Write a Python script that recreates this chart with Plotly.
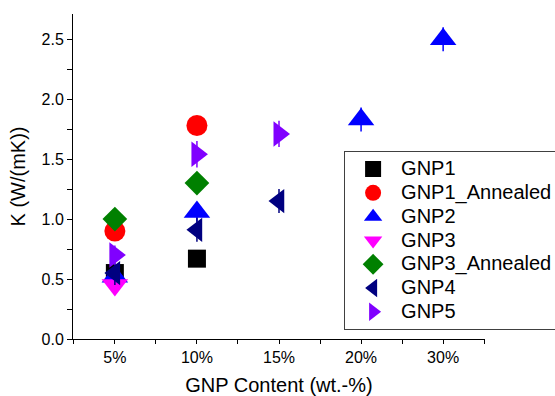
import plotly.graph_objects as go

categories = ["5%", "10%", "15%", "20%", "30%"]

series_names = ["GNP1", "GNP1_Annealed", "GNP2", "GNP3", "GNP3_Annealed", "GNP4", "GNP5"]
series_x = {
    "GNP1": ["5%", "10%"],
    "GNP1_Annealed": ["5%", "10%"],
    "GNP2": ["5%", "10%", "20%", "30%"],
    "GNP3": ["5%"],
    "GNP3_Annealed": ["5%", "10%"],
    "GNP4": ["5%", "10%", "15%"],
    "GNP5": ["5%", "10%", "15%"],
}
series_y = {
    "GNP1": [0.55, 0.67],
    "GNP1_Annealed": [0.90, 1.78],
    "GNP2": [0.52, 1.06, 1.83, 2.50],
    "GNP3": [0.45],
    "GNP3_Annealed": [1.00, 1.30],
    "GNP4": [0.55, 0.91, 1.15],
    "GNP5": [0.70, 1.54, 1.71],
}
series_err = {
    "GNP1": [0.03, 0.03],
    "GNP1_Annealed": [0.04, 0.04],
    "GNP2": [0.05, 0.08, 0.10, 0.10],
    "GNP3": [0.04],
    "GNP3_Annealed": [0.05, 0.05],
    "GNP4": [0.1, 0.1, 0.1],
    "GNP5": [0.08, 0.11, 0.11],
}
colors = {
    "GNP1": "#000000",
    "GNP1_Annealed": "#FF0000",
    "GNP2": "#0000FF",
    "GNP3": "#FF00FF",
    "GNP3_Annealed": "#008000",
    "GNP4": "#000080",
    "GNP5": "#8000FF",
}
symbols = {
    "GNP1": "square",
    "GNP1_Annealed": "circle",
    "GNP2": "triangle-up",
    "GNP3": "triangle-down",
    "GNP3_Annealed": "diamond",
    "GNP4": "triangle-left",
    "GNP5": "triangle-right",
}
sizes = {
    "GNP1": 18,
    "GNP1_Annealed": 21,
    "GNP2": 23,
    "GNP3": 23,
    "GNP3_Annealed": 19,
    "GNP4": 21,
    "GNP5": 22,
}

y_ticks = [0.0, 0.5, 1.0, 1.5, 2.0, 2.5]
FONT = "Arial, Liberation Sans, sans-serif"

fig = go.Figure()
for name in series_names:
    xi = [categories.index(c) for c in series_x[name]]
    fig.add_trace(go.Scatter(
        x=xi, y=series_y[name], mode="markers",
        name='<span style="font-size:20px">' + name + "&nbsp;&nbsp;</span>",
        marker=dict(symbol=symbols[name], size=sizes[name], color=colors[name], line=dict(width=0)),
        error_y=dict(type="data", array=series_err[name], color=colors[name], thickness=1.5, width=0),
    ))

fig.update_layout(
    width=555, height=396,
    margin=dict(l=73, r=70, t=14, b=57, autoexpand=False),
    paper_bgcolor="white", plot_bgcolor="white",
    font=dict(family=FONT, color="#000000", size=16),
    showlegend=True,
    legend=dict(
        x=0.658, y=0.578, xanchor="left", yanchor="top",
        bordercolor="#404040", borderwidth=1, bgcolor="white",
        font=dict(size=16, family=FONT), itemwidth=46, itemsizing="trace",
    ),
    xaxis=dict(
        range=[-0.51, 4.51], tickmode="array", tickvals=list(range(len(categories))), ticktext=categories,
        showline=True, linecolor="#000000", linewidth=1, ticks="outside", ticklen=4, tickwidth=1, tickcolor="#000000",
        minor=dict(tickmode="array", tickvals=[-0.5, 0.5, 1.5, 2.5, 3.5, 4.5], ticks="outside", ticklen=4, tickcolor="#000000"),
        showgrid=False, zeroline=False, tickfont=dict(size=16),
        title=dict(text="GNP Content (wt.-%)", font=dict(size=20), standoff=13),
    ),
    yaxis=dict(
        range=[0, 2.71], tickmode="array", tickvals=y_ticks, ticktext=[f"{v:.1f}" for v in y_ticks],
        showline=True, linecolor="#000000", linewidth=1, ticks="outside", ticklen=5, tickwidth=1, tickcolor="#000000",
        minor=dict(tickmode="array", tickvals=[0.25, 0.75, 1.25, 1.75, 2.25], ticks="outside", ticklen=5, tickcolor="#000000"),
        showgrid=False, zeroline=False, tickfont=dict(size=16),
        title=dict(text="K (W/(mK))", font=dict(size=20), standoff=10),
    ),
)

fig.write_html("out.html", config={"displayModeBar": False},
               post_script="document.body.style.margin='0';")
